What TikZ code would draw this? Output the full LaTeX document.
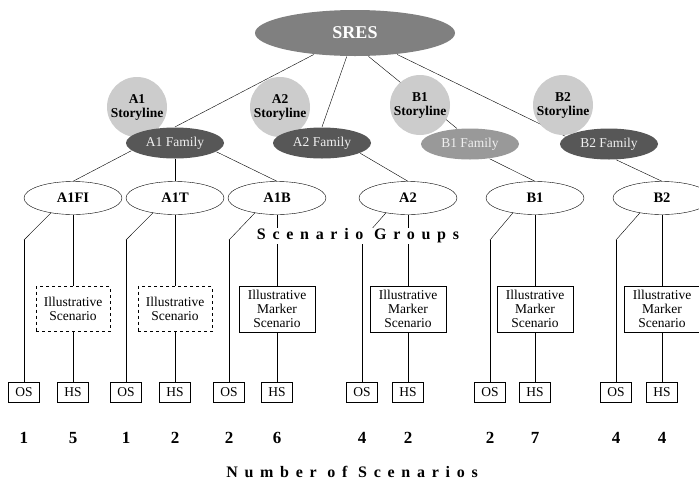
\documentclass[tikz,border=0pt]{standalone}
\usepackage{fontspec}
\setmainfont{Liberation Serif}
\usepackage{xcolor}
\usepackage{tikz}
\usetikzlibrary{shapes.geometric, backgrounds}

\definecolor{sresgray}{gray}{0.50}
\definecolor{famdark}{gray}{0.34}
\definecolor{famlight}{gray}{0.60}
\definecolor{storygray}{gray}{0.80}

\begin{document}
\begin{tikzpicture}[x=1pt, y=-1pt, line width=1.2pt,
    sres/.style={ellipse, fill=sresgray, minimum width=200pt, minimum height=46pt,
      text=white, font=\fontsize{18}{20}\selectfont\bfseries},
    storyline/.style={circle, fill=storygray, minimum size=60pt, inner sep=0pt,
      align=center, font=\fontsize{13.5}{14}\selectfont\bfseries},
    family/.style={ellipse, fill=famdark, minimum width=98pt, minimum height=31pt,
      inner sep=0pt, text=gray!12, font=\fontsize{13.5}{14}\selectfont},
    group/.style={ellipse, draw, fill=white, minimum width=98pt, minimum height=33pt,
      inner sep=0pt, font=\fontsize{14.5}{15}\selectfont\bfseries},
    illbox/.style={draw, fill=white, minimum width=76pt, minimum height=46pt,
      inner sep=1pt, align=center, font=\fontsize{13.5}{14}\selectfont},
    scbox/.style={draw, fill=white, minimum width=31pt, minimum height=20pt,
      inner sep=0pt, font=\fontsize{13.5}{14}\selectfont},
    count/.style={font=\fontsize{17}{18}\selectfont\bfseries},
    banner/.style={fill=white, inner sep=1pt,
      font=\fontsize{16}{17}\selectfont\bfseries\addfontfeature{LetterSpace=42}}
  ]
  \useasboundingbox (0,0) rectangle (699,483);
  % Top of the tree
  \node[sres] (SRES) at (355,33) {SRES};
  % Storylines
  \node[storyline] (A1st) at (137,107) {A1\\Storyline};
  \node[storyline] (A2st) at (280,107) {A2\\Storyline};
  \node[storyline] (B1st) at (420,105) {B1\\Storyline};
  \node[storyline] (B2st) at (563,105) {B2\\Storyline};
  % Families
  \node[family] (A1fam) at (175,143) {A1 Family};
  \node[family] (A2fam) at (322,143) {A2 Family};
  \node[family, fill=famlight] (B1fam) at (470,144) {B1 Family};
  \node[family] (B2fam) at (609,144) {B2 Family};
  % Lines from SRES run under the storylines
  \begin{pgfonlayer}{background}
    \draw (SRES) -- (A1fam.north);
    \draw (SRES) -- (A2fam.north);
    \draw (SRES.-60) -- (B1fam.130);
    \draw (SRES.-27) -- (B2fam.170);
  \end{pgfonlayer}
  % Scenario groups
  \node[group] (A1FI) at (73,198) {A1FI};
  \node[group] (A1T) at (175,198) {A1T};
  \node[group] (A1B) at (277,198) {A1B};
  \node[group] (A2) at (408,198) {A2};
  \node[group] (B1) at (535,198) {B1};
  \node[group] (B2) at (662,198) {B2};
  \draw (A1fam.190) -- (A1FI.north);
  \draw (A1fam.south) -- (A1T.north);
  \draw (A1fam.-12) -- (A1B.north);
  \draw (A2fam.-15) -- (A2.north);
  \draw (B1fam.-37) -- (B1.north);
  \draw (B2fam.-65) -- (B2.north);
  % Illustrative scenarios
  \node[illbox, dashed, minimum width=74pt, minimum height=45pt] (ill1) at (73,309) {Illustrative\\Scenario};
  \node[illbox, dashed, minimum width=74pt, minimum height=45pt] (ill2) at (175,309) {Illustrative\\Scenario};
  \node[illbox] (ill3) at (277,309) {Illustrative\\Marker\\Scenario};
  \node[illbox] (ill4) at (408,309) {Illustrative\\Marker\\Scenario};
  \node[illbox] (ill5) at (535,309) {Illustrative\\Marker\\Scenario};
  \node[illbox] (ill6) at (662,309) {Illustrative\\Marker\\Scenario};
  % OS and HS boxes
  \node[scbox] (os1) at (24,392) {OS};
  \node[scbox] (hs1) at (73,392) {HS};
  \node[scbox] (os2) at (126,392) {OS};
  \node[scbox] (hs2) at (175,392) {HS};
  \node[scbox] (os3) at (229,392) {OS};
  \node[scbox] (hs3) at (277,392) {HS};
  \node[scbox] (os4) at (362,392) {OS};
  \node[scbox] (hs4) at (408,392) {HS};
  \node[scbox] (os5) at (490,392) {OS};
  \node[scbox] (hs5) at (535,392) {HS};
  \node[scbox] (os6) at (616,392) {OS};
  \node[scbox] (hs6) at (662,392) {HS};
  % Bends of the OS lines
  \coordinate (k1) at (24,240);
  \coordinate (k2) at (126,240);
  \coordinate (k3) at (229,240);
  \coordinate (k4) at (362,240);
  \coordinate (k5) at (490,240);
  \coordinate (k6) at (616,240);
  % Group to boxes
  \draw[line cap=round] (A1FI.214) -- (k1);
  \draw[line cap=round] (A1T.214) -- (k2);
  \draw[line cap=round] (A1B.214) -- (k3);
  \draw[line cap=round] (A2.214) -- (k4);
  \draw[line cap=round] (B1.214) -- (k5);
  \draw[line cap=round] (B2.214) -- (k6);
  \draw (k1) -- (os1.north);
  \draw (k2) -- (os2.north);
  \draw (k3) -- (os3.north);
  \draw (k4) -- (os4.north);
  \draw (k5) -- (os5.north);
  \draw (k6) -- (os6.north);
  \draw (A1FI) -- (ill1) -- (hs1);
  \draw (A1T) -- (ill2) -- (hs2);
  \draw (A1B) -- (ill3) -- (hs3);
  \draw (A2) -- (ill4) -- (hs4);
  \draw (B1) -- (ill5) -- (hs5);
  \draw (B2) -- (ill6) -- (hs6);
  \node[banner] (groups) at (358,236) {Scenario Groups};
  % Counts
  \node[count] (n1) at (24,438) {1};
  \node[count] (n2) at (73,438) {5};
  \node[count] (n3) at (126,438) {1};
  \node[count] (n4) at (175,438) {2};
  \node[count] (n5) at (229,438) {2};
  \node[count] (n6) at (277,438) {6};
  \node[count] (n7) at (362,438) {4};
  \node[count] (n8) at (408,438) {2};
  \node[count] (n9) at (490,438) {2};
  \node[count] (n10) at (535,438) {7};
  \node[count] (n11) at (616,438) {4};
  \node[count] (n12) at (662,438) {4};
  \node[banner] (number) at (352,472) {Number of Scenarios};
\end{tikzpicture}
\end{document}
